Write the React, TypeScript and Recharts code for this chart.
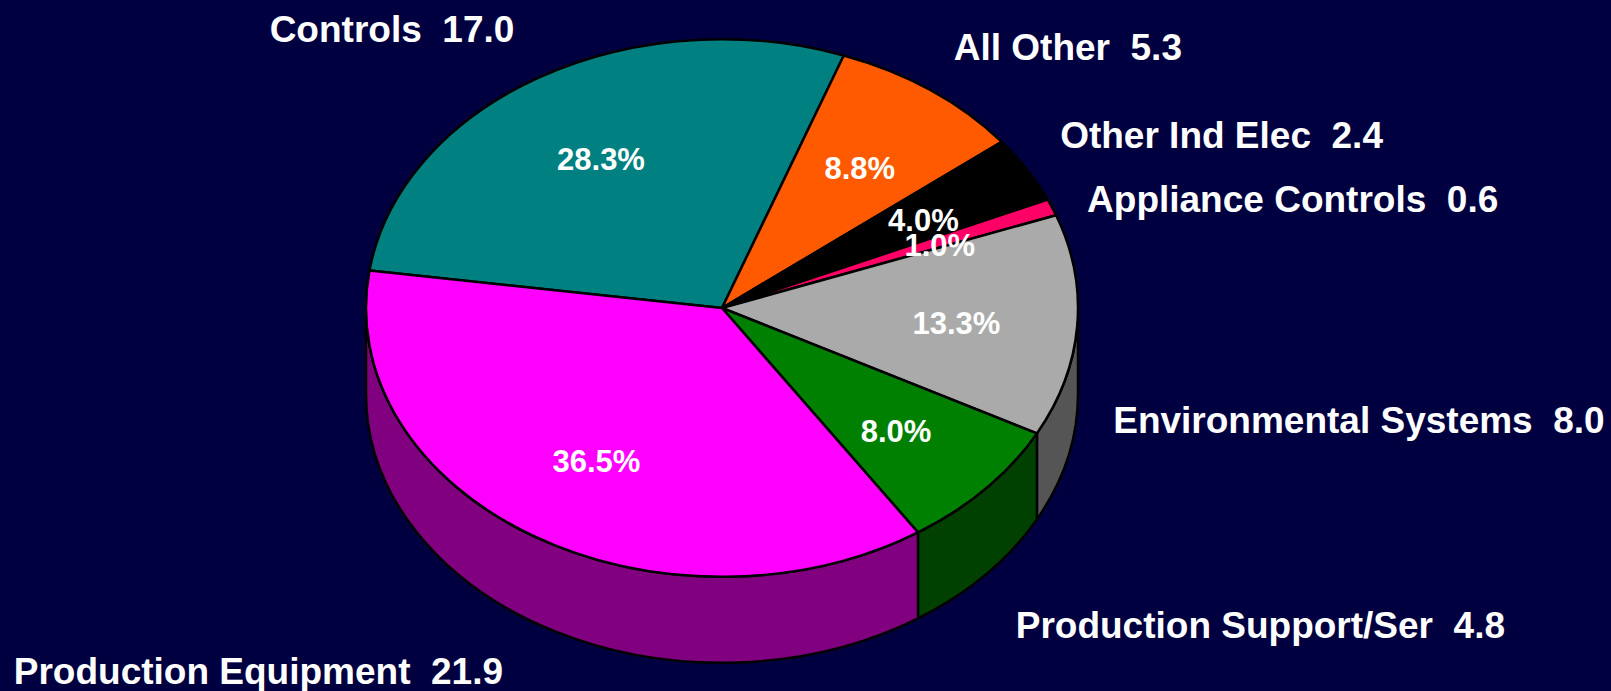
import { Cell, Pie, PieChart } from 'recharts';

const NAMES = [
  'Controls',
  'All Other',
  'Other Ind Elec',
  'Appliance Controls',
  'Environmental Systems',
  'Production Support/Ser',
  'Production Equipment',
];
const VALUES = [17.0, 5.3, 2.4, 0.6, 8.0, 4.8, 21.9];
const COLORS = ['#008080', '#ff5a00', '#000000', '#ff0066', '#aaaaaa', '#008000', '#ff00ff'];
// where each outer label sits, relative to the rim point at the slice's mid angle
const LABEL_OFFSETS = [
  [-269, -36],
  [23, -30],
  [33, -22],
  [35, 5],
  [36, 107],
  [30, 149],
  [-518, 149],
];

const W = 1611;
const H = 691;
const CX = 722;
const CY = 308;
const RX = 356;
const TILT = 0.755;
const DEPTH = 86;
const RAD = Math.PI / 180;
const BG = '#000040';
const FONT = '"Liberation Sans", Arial, sans-serif';

const data = NAMES.map((name, i) => ({ name, value: VALUES[i] }));

function rim(cx: number, cy: number, r: number, angle: number) {
  return [cx + r * Math.cos(angle * RAD), cy - r * TILT * Math.sin(angle * RAD)];
}

function darken(hex: string) {
  const n = parseInt(hex.slice(1), 16);
  const r = (n >> 16) & 255;
  const g = (n >> 8) & 255;
  const b = n & 255;
  return `rgb(${Math.round(r / 2)},${Math.round(g / 2)},${Math.round(b / 2)})`;
}

function TopFace(props: any) {
  const { cx, cy, outerRadius: r, startAngle: s, endAngle: e, fill } = props;
  const [x1, y1] = rim(cx, cy, r, s);
  const [x2, y2] = rim(cx, cy, r, e);
  const large = Math.abs(s - e) > 180 ? 1 : 0;
  const sweep = s > e ? 1 : 0;
  return (
    <path
      d={`M${cx},${cy}L${x1},${y1}A${r},${r * TILT} 0 ${large} ${sweep} ${x2},${y2}Z`}
      fill={fill}
      stroke="#000"
      strokeWidth={2.5}
      strokeLinejoin="round"
    />
  );
}

function SideWall(props: any) {
  const { cx, cy, outerRadius: r, startAngle: s, endAngle: e, fill } = props;
  const lo = Math.min(s, e);
  const hi = Math.max(s, e);
  const parts: string[] = [];
  for (let k = -1; k <= 1; k++) {
    const a = Math.max(lo, -180 + 360 * k);
    const b = Math.min(hi, 360 * k);
    if (b - a > 0.01) {
      const [ax, ay] = rim(cx, cy, r, a);
      const [bx, by] = rim(cx, cy, r, b);
      parts.push(
        `M${ax},${ay}A${r},${r * TILT} 0 0 0 ${bx},${by}L${bx},${by + DEPTH}A${r},${r * TILT} 0 0 1 ${ax},${ay + DEPTH}Z`,
      );
    }
  }
  if (!parts.length) return <g />;
  return <path d={parts.join('')} fill={darken(fill)} stroke="#000" strokeWidth={2.5} strokeLinejoin="round" />;
}

function renderLabel(props: any) {
  const { cx, cy, outerRadius: r, midAngle, percent, index } = props;
  const [mx, my] = rim(cx, cy, r, midAngle);
  const [ix, iy] = rim(cx, cy, r * 0.66, midAngle);
  const [dx, dy] = LABEL_OFFSETS[index];
  return (
    <g key={`lbl-${index}`}>
      <text
        x={ix}
        y={iy + 4}
        textAnchor="middle"
        dominantBaseline="central"
        fill="#fff"
        stroke="none"
        fontFamily={FONT}
        fontWeight="bold"
        fontSize={31}
      >
        {`${(percent * 100).toFixed(1)}%`}
      </text>
      <text
        x={mx + dx}
        y={my + dy}
        textAnchor="start"
        fill="#fff"
        stroke="none"
        fontFamily={FONT}
        fontWeight="bold"
        fontSize={37}
        style={{ whiteSpace: 'pre' }}
      >
        {`${NAMES[index]}  ${VALUES[index].toFixed(1)}`}
      </text>
    </g>
  );
}

export default function App() {
  return (
    <div style={{ width: W, height: H, background: BG }}>
      <style>{'body{margin:0;background:#000040}'}</style>
      <PieChart width={W} height={H} margin={{ top: 0, right: 0, bottom: 0, left: 0 }}>
        <Pie
          data={data}
          dataKey="value"
          nameKey="name"
          cx={CX}
          cy={CY}
          outerRadius={RX}
          startAngle={172}
          endAngle={-188}
          stroke="none"
          isAnimationActive={false}
          shape={SideWall}
          activeShape={SideWall}
          inactiveShape={SideWall}
        >
          {data.map((d, i) => (
            <Cell key={`side-${d.name}`} fill={COLORS[i]} />
          ))}
        </Pie>
        <Pie
          data={data}
          dataKey="value"
          nameKey="name"
          cx={CX}
          cy={CY}
          outerRadius={RX}
          startAngle={172}
          endAngle={-188}
          stroke="none"
          isAnimationActive={false}
          shape={TopFace}
          activeShape={TopFace}
          inactiveShape={TopFace}
          label={renderLabel}
          labelLine={false}
        >
          {data.map((d, i) => (
            <Cell key={`top-${d.name}`} fill={COLORS[i]} />
          ))}
        </Pie>
      </PieChart>
    </div>
  );
}
